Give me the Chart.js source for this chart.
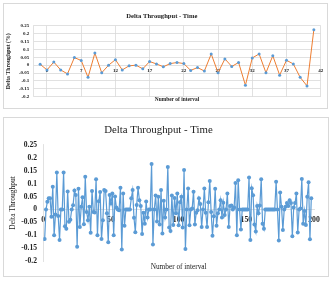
<!DOCTYPE html>
<html>
<head>
<meta charset="utf-8">
<script src="https://cdn.jsdelivr.net/npm/chart.js@4.4.0/dist/chart.umd.min.js"></script>
<style>
  body { margin: 0; background: #fff; width: 333px; height: 283px; overflow: hidden; position: relative; }
  .box { position: absolute; border: 1px solid #d9d9d9; box-sizing: border-box; }
  canvas { position: absolute; }
</style>
</head>
<body>
<div class="box" style="left:3px;top:3px;width:325px;height:106px"></div>
<canvas id="top-chart" width="324" height="106" style="left:3px;top:3px"></canvas>
<div class="box" style="left:3px;top:117px;width:326px;height:160px"></div>
<canvas id="bottom-chart" width="326" height="160" style="left:3px;top:117px"></canvas>
<script>
const SERIF = '"Liberation Serif", "Times New Roman", serif';
const TEXT = '#222';
const GRID = '#d9d9d9';

// tick labels
const yTicks = [-0.2, -0.15, -0.1, -0.05, 0, 0.05, 0.1, 0.15, 0.2, 0.25];
const topTicksX = [2, 7, 12, 17, 22, 27, 32, 37, 42];
const bottomTicksX = [0, 50, 100, 150, 200];

// delta throughput per interval (top chart, intervals 1..41)
const topDelta = [0.006, -0.03, 0.02, -0.03, -0.055, 0.048, 0.03, -0.077, 0.077, -0.048,
  0, 0.035, -0.03, -0.004, 0, -0.023, 0.023, 0.008, -0.01, 0.01,
  0.017, 0.01, -0.033, -0.015, -0.037, 0.071, -0.048, 0.04, -0.008, 0.017,
  -0.127, 0.046, 0.071, -0.048, 0.06, -0.063, 0.031, 0.008, -0.077, -0.131,
  0.225];

// delta throughput per interval (bottom chart)
const bottomDelta = [-0.115, 0, 0.03, 0.043, 0.043, -0.028, 0.088, -0.1, -0.02, 0.143,
  -0.025, -0.118, 0, 0, 0.143, -0.065, -0.075, 0.07, -0.048, -0.04,
  0, 0.016, 0.073, 0.056, -0.145, 0.08, -0.068, 0.01, 0.047, -0.057,
  0.127, -0.01, -0.042, 0.01, -0.09, 0.072, -0.01, -0.012, 0.117, -0.1,
  0.032, 0.068, -0.115, -0.042, 0.075, 0.072, -0.015, -0.127, 0.056, 0.023,
  0.062, -0.1, 0.05, 0.008, 0, -0.003, 0.084, -0.155, 0.062, -0.063,
  0, 0, 0, 0, 0.043, 0.075, -0.032, -0.088, 0.017, 0.084,
  0.036, 0.013, -0.095, -0.013, -0.055, 0.031, -0.031, 0, 0, 0.176,
  -0.136, 0, 0.054, -0.047, 0.049, -0.058, 0.075, -0.093, 0.034, -0.031,
  0, 0.165, -0.07, -0.084, 0.054, -0.06, 0.044, -0.015, 0.062, -0.061,
  0.028, 0.049, -0.07, 0.153, -0.153, 0, 0.081, -0.061, 0, 0.004,
  0.069, -0.058, -0.013, -0.003, 0.043, 0.021, -0.068, 0, 0.081, -0.013,
  -0.068, 0.028, 0.11, -0.01, -0.102, -0.026, 0.08, -0.063, -0.015, 0,
  0.036, -0.031, 0.026, -0.022, 0, 0.062, -0.068, 0.013, 0.015, 0,
  0.008, 0.103, -0.1, 0.113, 0, -0.078, 0, 0, 0, 0,
  0, 0.124, -0.118, 0.082, 0.055, -0.058, -0.085, 0.013, -0.015, 0.015,
  0.117, -0.055, -0.075, 0, 0, 0, 0, 0, 0, 0,
  0, 0.107, 0, -0.12, 0.066, 0.01, -0.08, 0, 0.01, 0.025,
  0.013, 0.036, 0.025, -0.104, 0.008, 0.025, 0.062, -0.089, 0, 0.004,
  0.118, -0.055, -0.006, -0.06, 0.049, 0.105, -0.116, 0.043];

function setTicks(values) {
  return scale => { scale.ticks = values.map(v => ({value: v})); };
}
function fixWidth(w) {
  return scale => { scale.width = w; };
}
const fmt = v => String(Math.round(v * 100) / 100);

// top chart
new Chart(document.getElementById('top-chart'), {
  type: 'line',
  data: {
    datasets: [{
      data: topDelta.map((v, i) => ({x: i + 1, y: v})),
      borderColor: '#ED7D31',
      borderWidth: 1,
      pointRadius: 1.5,
      pointBackgroundColor: '#5B9BD5',
      pointBorderColor: '#5B9BD5',
      pointBorderWidth: 0,
      tension: 0
    }]
  },
  options: {
    responsive: false,
    animation: false,
    layout: {padding: {left: 0, right: 6.3, top: 0, bottom: 5.75}},
    plugins: {
      legend: {display: false},
      tooltip: {enabled: false},
      title: {
        display: true, text: 'Delta Throughput - Time', color: TEXT,
        font: {family: SERIF, size: 6.6, weight: 'bold'},
        padding: {top: 9, bottom: 5.8}
      }
    },
    scales: {
      x: {
        type: 'linear', min: 0, max: 42, position: {y: 0},
        afterBuildTicks: setTicks(topTicksX),
        grid: {color: GRID, lineWidth: 0.8, drawTicks: false},
        border: {display: false},
        ticks: {font: {family: SERIF, size: 5, weight: 'bold'}, color: TEXT, padding: 3, maxRotation: 0, autoSkip: false}
      },
      x2: {
        type: 'linear', min: 0, max: 42, position: 'bottom',
        grid: {display: false, drawTicks: false},
        border: {display: false},
        ticks: {display: false},
        title: {display: true, text: 'Number of interval', color: TEXT,
          font: {family: SERIF, size: 5.4, weight: 'bold'}, padding: {top: 0, bottom: 0}}
      },
      y: {
        min: -0.2, max: 0.25,
        afterBuildTicks: setTicks(yTicks),
        afterFit: fixWidth(30.3),
        grid: {color: GRID, lineWidth: 0.8, drawTicks: false},
        border: {color: GRID, width: 0.8},
        ticks: {callback: fmt, font: {family: SERIF, size: 5, weight: 'bold'}, color: TEXT, padding: 4, autoSkip: false},
        title: {display: true, text: 'Delta Throughput (%)', color: TEXT,
          font: {family: SERIF, size: 5.8, weight: 'bold'}, padding: {top: 2, bottom: 0}}
      }
    }
  }
});

// bottom chart
new Chart(document.getElementById('bottom-chart'), {
  type: 'line',
  data: {
    datasets: [{
      data: bottomDelta.map((v, i) => ({x: i + 1, y: v})),
      borderColor: '#5B9BD5',
      borderWidth: 1.2,
      pointRadius: 2,
      pointBackgroundColor: '#5B9BD5',
      pointBorderColor: '#5B9BD5',
      pointBorderWidth: 0,
      tension: 0
    }]
  },
  options: {
    responsive: false,
    animation: false,
    layout: {padding: {left: 0, right: 15, top: 0, bottom: 5.6}},
    plugins: {
      legend: {display: false},
      tooltip: {enabled: false},
      title: {
        display: true, text: 'Delta Throughput - Time', color: TEXT,
        font: {family: SERIF, size: 10.8, weight: 'normal'},
        padding: {top: 6.8, bottom: 8.2}
      }
    },
    scales: {
      x: {
        type: 'linear', min: 0, max: 200, position: {y: 0},
        afterBuildTicks: setTicks(bottomTicksX),
        grid: {display: false, drawTicks: false},
        border: {color: GRID, width: 0.8},
        ticks: {font: {family: SERIF, size: 7.8, weight: 'bold'}, color: TEXT, padding: 5.5, maxRotation: 0, autoSkip: false}
      },
      x2: {
        type: 'linear', min: 0, max: 200, position: 'bottom',
        grid: {display: false, drawTicks: false},
        border: {display: false},
        ticks: {display: false},
        title: {display: true, text: 'Number of interval', color: TEXT,
          font: {family: SERIF, size: 7.3, weight: 'normal'}, padding: {top: 1.6, bottom: 0}}
      },
      y: {
        min: -0.2, max: 0.25,
        afterBuildTicks: setTicks(yTicks),
        afterFit: fixWidth(40.3),
        grid: {display: false, drawTicks: false},
        border: {color: GRID, width: 0.8},
        ticks: {callback: fmt, font: {family: SERIF, size: 7.6, weight: 'bold'}, color: TEXT, padding: 6.3, autoSkip: false},
        title: {display: true, text: 'Delta Throughput', color: TEXT,
          font: {family: SERIF, size: 7.5, weight: 'normal'}, padding: {top: 5.5, bottom: 0}}
      }
    }
  }
});
</script>
</body>
</html>
